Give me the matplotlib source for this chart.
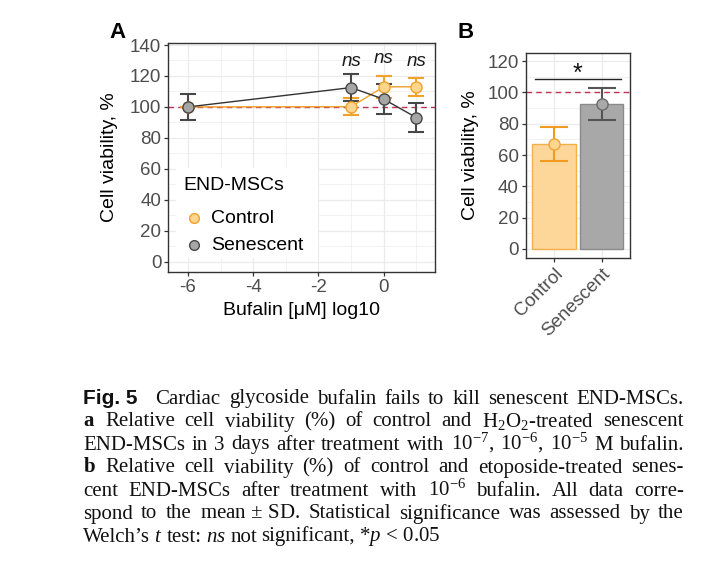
import matplotlib
matplotlib.use("Agg")
import matplotlib.pyplot as plt
from matplotlib.patches import Rectangle
from matplotlib.lines import Line2D
from matplotlib.ticker import FixedLocator

plt.rcParams['font.family'] = ['Liberation Sans', 'DejaVu Sans']
plt.rcParams['axes.unicode_minus'] = False
plt.rcParams['mathtext.fontset'] = 'custom'
plt.rcParams['mathtext.rm'] = 'Liberation Serif'
plt.rcParams['mathtext.it'] = 'Liberation Serif:italic'
plt.rcParams['mathtext.bf'] = 'Liberation Serif:bold'

# ---------------- data ----------------
dose_log10 = [-6, -1, 0, 1]
ctrl_mean = [100, 100.2, 113, 113]
ctrl_sd = [0, 5.3, 7.0, 5.9]
sen_mean = [100, 112.5, 105, 93.1]
sen_sd = [8.2, 8.6, 9.7, 9.4]
ns_x = [-1, 0, 1]
ns_y = [129.2, 131.4, 129.2]
ns_labels = ['ns', 'ns', 'ns']

groups_b = ['Control', 'Senescent']
b_mean = [67, 92.5]
b_sd = [10.7, 10.2]
sig_label = '*'

xticks_a = [-6, -4, -2, 0]
yticks_a = [0, 20, 40, 60, 80, 100, 120, 140]
yticks_b = [0, 20, 40, 60, 80, 100, 120]
legend_title = 'END-MSCs'
legend_labels = ['Control', 'Senescent']

# ---------------- style ----------------
W, H = 721, 578
ORANGE = '#F2A129'
ORANGE_FILL = '#FDD58C'
GREY_DARK = '#474747'
GREY_FILL = '#A6A6A6'
DASH_RED = '#C0325A'
GRID = '#EBEBEB'
BORDER = '#333333'
TICKLAB = '#4D4D4D'

fig = plt.figure(figsize=(W / 100, H / 100), dpi=100)


def fr(px0, py0, px1, py1):
    return [px0 / W, 1 - py1 / H, (px1 - px0) / W, (py1 - py0) / H]


def style_axes(ax):
    for s in ax.spines.values():
        s.set_color(BORDER)
        s.set_linewidth(1.0)
    ax.tick_params(axis='both', which='major', direction='out', length=3,
                   width=0.9, color=BORDER, labelsize=13.5, labelcolor=TICKLAB, pad=2)
    ax.tick_params(axis='both', which='minor', length=0)
    ax.set_axisbelow(True)
    ax.grid(True, which='major', color=GRID, linewidth=0.9)
    ax.grid(True, which='minor', color=GRID, linewidth=0.45)


# ---------------- Panel A ----------------
axA = fig.add_axes(fr(168.3, 43.3, 435, 271.7))
axA.set_xlim(-6.6, 1.57)
axA.set_ylim(-6.4, 141.1)
axA.xaxis.set_major_locator(FixedLocator(xticks_a))
axA.xaxis.set_minor_locator(FixedLocator([-5, -3, -1, 1]))
axA.yaxis.set_major_locator(FixedLocator(yticks_a))
axA.yaxis.set_minor_locator(FixedLocator([10, 30, 50, 70, 90, 110, 130]))
style_axes(axA)
axA.axhline(100, color=DASH_RED, linewidth=1.0, dashes=(4, 3), zorder=1)

# error bars first (capsize is half the cap length in points)
axA.errorbar(dose_log10, ctrl_mean, yerr=ctrl_sd, fmt='none', ecolor=ORANGE,
             elinewidth=1.5, capsize=5.8, capthick=1.5, zorder=2)
axA.errorbar(dose_log10, sen_mean, yerr=sen_sd, fmt='none', ecolor=GREY_DARK,
             elinewidth=1.5, capsize=5.8, capthick=1.5, zorder=2)
# lines
axA.plot(dose_log10, ctrl_mean, color=ORANGE, linewidth=1.0, zorder=3)
axA.plot(dose_log10, sen_mean, color='#333333', linewidth=1.0, zorder=3)
# points
axA.plot(dose_log10, ctrl_mean, 'o', ms=8, mfc=ORANGE_FILL, mec=ORANGE, mew=1.0, zorder=4)
axA.plot(dose_log10, sen_mean, 'o', ms=8, mfc=GREY_FILL, mec=GREY_DARK, mew=1.0, zorder=4)

for x, y, s in zip(ns_x, ns_y, ns_labels):
    axA.text(x, y, s, ha='center', va='center', fontsize=13.5, style='italic', color='#1a1a1a')

axA.set_ylabel('Cell viability, %', fontsize=14, va='center')
axA.yaxis.set_label_coords(-0.219, 0.5)
axA.set_xlabel('Bufalin [μM] log10', fontsize=14, va='center')
axA.xaxis.set_label_coords(0.5, -0.172)


def ax_coords(px, py):
    return ((px - 168.3) / (435 - 168.3), (271.7 - py) / (271.7 - 43.3))


# legend (manual)
lx0, ly0 = ax_coords(176, 258)
lx1, ly1 = ax_coords(318, 168)
axA.add_patch(Rectangle((lx0, ly0), lx1 - lx0, ly1 - ly0, transform=axA.transAxes,
                        facecolor='white', edgecolor='none', zorder=1.5))
tx, ty = ax_coords(183, 185)
axA.text(tx, ty, legend_title, transform=axA.transAxes, ha='left', va='center',
         fontsize=14, color='black', zorder=5)
for lab, yy, fc, ec in zip(legend_labels, [218.3, 245], [ORANGE_FILL, GREY_FILL], [ORANGE, GREY_DARK]):
    mx, my = ax_coords(194, yy)
    axA.add_line(Line2D([mx], [my], marker='o', ms=7, mfc=fc, mec=ec, mew=1.0,
                        transform=axA.transAxes, zorder=5))
    lx, _ = ax_coords(211.5, yy)
    axA.text(lx, my, lab, transform=axA.transAxes, ha='left', va='center',
             fontsize=14, color='black', zorder=5)

# ---------------- Panel B ----------------
axB = fig.add_axes(fr(525.7, 52.7, 630, 258.3))
xb = [1, 2]
axB.set_xlim(0.4, 2.6)
axB.set_ylim(-6, 125.4)
axB.yaxis.set_major_locator(FixedLocator(yticks_b))
axB.yaxis.set_minor_locator(FixedLocator([10, 30, 50, 70, 90, 110]))
style_axes(axB)
axB.set_xticks(xb)
axB.set_xticklabels(groups_b, rotation=45, ha='right', va='top', rotation_mode='anchor')

axB.bar(xb, b_mean, width=0.92, color=['#FDD79A', '#A8A8A8'],
        edgecolor=['#F3B04A', '#8A8A8A'], linewidth=1.0, zorder=2)
axB.axhline(100, color=DASH_RED, linewidth=1.0, dashes=(4, 3), zorder=2.5)
for x, m, s, ec in zip(xb, b_mean, b_sd, ['#F29A1E', '#555555']):
    axB.errorbar([x], [m], yerr=[s], fmt='none', ecolor=ec, elinewidth=1.5,
                 capsize=10.4, capthick=1.5, zorder=3)
for x, m, fc, ec in zip(xb, b_mean, [ORANGE_FILL, '#A9A9A9'], ['#EFA43A', '#6A6A6A']):
    axB.plot([x], [m], 'o', ms=8, mfc=fc, mec=ec, mew=1.0, zorder=4)

axB.plot([0.6, 2.4], [108.7, 108.7], color='#222222', linewidth=1.0, zorder=4)
axB.text(1.5, 107.5, sig_label, ha='center', va='baseline', fontsize=18, color='#111111')

axB.set_ylabel('Cell viability, %', fontsize=14, va='center')
axB.yaxis.set_label_coords(-0.534, 0.5)

# panel letters
fig.text(117 / W, 1 - 32 / H, 'A', fontsize=16, fontweight='bold', ha='center', va='center')
fig.text(466 / W, 1 - 32 / H, 'B', fontsize=16, fontweight='bold', ha='center', va='center')

# ---------------- Caption (justified, word by word) ----------------
CS = 15
cap_words = [
    'Cardiac glycoside bufalin fails to kill senescent END-MSCs.'.split(),
    [r'$\mathbf{a}$', 'Relative', 'cell', 'viability', '(%)', 'of', 'control', 'and',
     r'H$_2$O$_2$-treated', 'senescent'],
    ['END-MSCs', 'in', '3', 'days', 'after', 'treatment', 'with', r'10$^{-7}$,',
     r'10$^{-6}$,', r'10$^{-5}$', 'M', 'bufalin.'],
    [r'$\mathbf{b}$'] + 'Relative cell viability (%) of control and etoposide-treated senes-'.split(),
    ['cent', 'END-MSCs', 'after', 'treatment', 'with', r'10$^{-6}$', 'bufalin.', 'All', 'data', 'corre-'],
    ['spond', 'to', 'the', r'mean$\,\pm\,$SD.', 'Statistical', 'significance', 'was',
     'assessed', 'by', 'the'],
    ['Welch’s', r'$t$', 'test:', r'$ns$', 'not', 'significant,', r'*$p\,<\,$0.05'],
]
X0, X1 = 83, 684
Y_BASE0, DY = 403.5, 23.0
renderer = fig.canvas.get_renderer()

for i, words in enumerate(cap_words):
    yb = 1 - (Y_BASE0 + i * DY) / H
    items = []
    if i == 0:
        tf = fig.text(0, yb, 'Fig. 5', ha='left', va='baseline', fontsize=15,
                      family='Liberation Sans', fontweight='bold', color='#111111')
        items.append((tf, 10))
    for w in words:
        t = fig.text(0, yb, w, ha='left', va='baseline', fontsize=CS,
                     family='Liberation Serif', color='#111111')
        items.append((t, 0))
    widths = [t.get_window_extent(renderer).width for t, _ in items]
    extras = sum(e for _, e in items)
    if i == len(cap_words) - 1:
        gap = 4.2
    else:
        gap = (X1 - X0 - sum(widths) - extras) / (len(items) - 1)
    x = X0
    for (t, extra), w in zip(items, widths):
        t.set_x(x / W)
        x += w + gap + extra

fig.savefig('out.png', dpi=100)
